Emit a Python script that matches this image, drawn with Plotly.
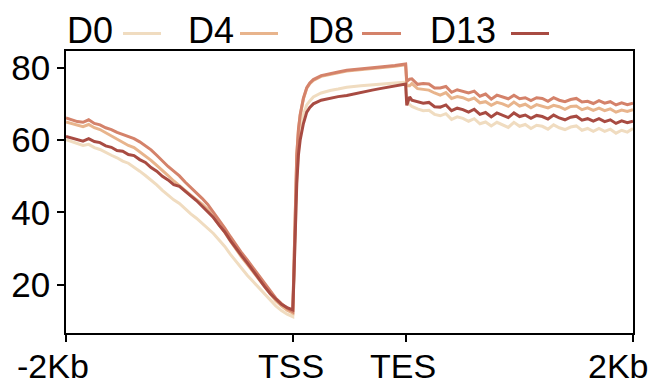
import plotly.graph_objects as go

# x positions: 0..2000 upstream, 2000..3000 scaled gene body, 3000..5000 downstream
tick_vals = [0, 2000, 3000, 5000]
tick_text = ["-2Kb", "TSS", "TES", "2Kb"]
y_ticks = [20, 40, 60, 80]

series_names = ["D0", "D4", "D8", "D13"]
series_colors = ["#f0dcc0", "#e8b48c", "#d4826a", "#a84b42"]

x_up = [0, 50, 100, 150, 200, 250, 300, 350, 400, 450, 500, 550, 600, 650, 700,
        750, 800, 850, 900, 950, 1000, 1050, 1100, 1150, 1200, 1250, 1300, 1350,
        1400, 1450, 1500, 1550, 1600, 1650, 1700, 1750, 1800, 1850, 1900, 1950, 2000]
x_body = [2010, 2020, 2035, 2050, 2065, 2093, 2123, 2150, 2181, 2250, 2329,
          2400, 2476, 2600, 2700, 2769, 2900, 2995]
x_down = [3005, 3030, 3050, 3100, 3150, 3200, 3250, 3300, 3350, 3400, 3450,
          3500, 3550, 3600, 3650, 3700, 3750, 3800, 3850, 3900, 3950,
          4000, 4050, 4100, 4150, 4200, 4250, 4300, 4350, 4400, 4450,
          4500, 4550, 4600, 4650, 4700, 4750, 4800, 4850, 4900, 4950, 5000]
x_all = x_up + x_body + x_down

d0 = ([60.1, 59.5, 59.1, 58.5, 58.8, 57.9, 57.4, 56.5, 55.8, 55.1, 54.2, 53.6, 52.6,
       51.4, 50.2, 49.0, 47.6, 46.1, 44.8, 43.5, 42.5, 41.0, 39.6, 38.4, 37.0, 35.8,
       34.2, 32.4, 30.6, 28.4, 26.4, 24.4, 22.6, 20.9, 19.2, 17.3, 15.6, 14.2, 12.9,
       11.9, 11.2]
      + [21.0, 35.0, 49.0, 57.0, 62.0, 67.0, 69.7, 70.8, 71.9, 73.0, 73.7,
         74.1, 74.6, 75.0, 75.3, 75.5, 75.8, 76.0]
      + [70.5, 69.9, 69.3, 68.6, 68.1, 68.2, 67.1, 66.7, 67.3, 65.7, 66.4,
         66.0, 65.2, 65.9, 64.5, 65.0, 63.9, 64.9, 64.3, 63.5, 64.9,
         63.8, 64.3, 63.2, 64.1, 63.8, 63.0, 64.2, 63.4, 62.9, 63.6,
         63.9, 62.7, 63.2, 62.4, 63.2, 62.4, 63.0, 61.9, 62.7, 62.2, 63.2])

d4 = ([65.0, 64.6, 64.1, 63.7, 64.3, 63.4, 62.9, 62.0, 61.1, 60.2, 59.4, 58.5, 57.9,
       56.8, 55.6, 54.4, 53.0, 51.7, 50.2, 48.7, 47.3, 46.1, 44.8, 43.6, 42.3, 40.8,
       38.8, 36.6, 34.5, 32.1, 29.8, 27.6, 25.6, 23.6, 21.5, 19.4, 17.3, 15.6, 14.2,
       13.0, 12.2]
      + [24.6, 41.7, 55.8, 62.8, 66.8, 71.3, 74.3, 75.6, 76.5, 77.6, 78.2,
         78.6, 79.1, 79.4, 79.8, 80.0, 80.4, 80.8]
      + [75.0, 75.0, 75.6, 74.2, 74.0, 73.8, 73.0, 72.4, 73.1, 71.5, 72.0,
         71.7, 71.0, 71.6, 70.3, 70.6, 69.6, 70.4, 70.0, 69.3, 70.5,
         69.4, 69.9, 68.9, 69.8, 69.3, 68.9, 69.6, 69.2, 68.5, 69.3,
         69.4, 68.4, 68.9, 68.2, 68.8, 68.1, 68.6, 67.7, 68.3, 67.9, 68.4])

d8 = ([66.1, 65.6, 65.1, 64.9, 65.6, 64.6, 64.2, 63.4, 62.9, 62.1, 61.6, 61.0, 60.4,
       59.5, 58.3, 57.3, 55.8, 54.1, 52.7, 51.4, 50.1, 48.4, 46.9, 45.5, 43.9, 42.2,
       40.1, 37.9, 35.7, 33.3, 31.0, 28.8, 26.8, 24.7, 22.5, 20.2, 18.1, 16.3, 14.8,
       13.5, 12.6]
      + [25.0, 42.0, 56.0, 63.0, 67.0, 71.5, 74.5, 75.8, 76.7, 77.8, 78.4,
         78.8, 79.3, 79.6, 80.0, 80.2, 80.6, 81.0]
      + [76.2, 76.8, 76.9, 75.4, 75.6, 75.5, 74.4, 74.4, 74.8, 73.2, 73.9,
         73.5, 73.0, 73.5, 72.1, 72.7, 71.3, 72.4, 71.9, 71.4, 72.4,
         71.4, 71.7, 70.9, 71.7, 71.5, 70.7, 71.7, 71.0, 70.6, 71.2,
         71.5, 70.5, 70.7, 70.1, 70.9, 70.2, 70.6, 69.7, 70.3, 69.8, 70.2])

d13 = ([61.0, 60.5, 60.2, 59.7, 60.4, 59.6, 59.3, 58.4, 58.0, 57.1, 56.9, 56.0, 55.7,
        54.6, 53.8, 52.4, 51.4, 50.0, 49.0, 47.7, 47.2, 45.8, 44.6, 43.3, 41.8, 40.3,
        38.6, 36.5, 34.6, 32.2, 30.0, 28.0, 26.0, 23.8, 21.8, 19.6, 17.6, 16.0, 14.6,
        13.7, 13.1]
       + [22.0, 35.0, 48.0, 56.0, 60.0, 64.5, 67.7, 69.0, 70.0, 71.0, 71.6,
          72.0, 72.3, 73.2, 73.8, 74.2, 74.9, 75.5]
       + [69.6, 71.9, 71.0, 70.6, 70.2, 70.4, 69.2, 69.1, 69.7, 68.1, 68.8,
          68.4, 67.7, 68.5, 67.1, 67.6, 66.4, 67.5, 66.9, 66.2, 67.5,
          66.5, 66.9, 66.0, 66.8, 66.5, 65.8, 66.9, 66.1, 65.6, 66.3,
          66.6, 65.5, 65.9, 65.2, 65.9, 65.1, 65.6, 64.6, 65.3, 64.8, 65.2])

series_values = [d0, d4, d8, d13]

FONT = "Liberation Sans, Arial, sans-serif"

fig = go.Figure()
for name, color, vals in zip(series_names, series_colors, series_values):
    fig.add_trace(go.Scatter(x=x_all, y=vals, mode="lines", name=name,
                             line=dict(color=color, width=3), showlegend=False))

# the page shows the figure offset by the body margin, so lay out in figure pixels
OFF = 8
FW, FH = 656, 392
PL, PR, PT, PB = 66 - OFF, 633 - OFF, 51 - OFF, 333 - OFF
W = PR - PL
H = PB - PT
def px_to_paper_x(px):
    return (px - OFF - PL) / W
def py_to_paper_y(py):
    return (PB - (py - OFF)) / H

# legend drawn as text followed by a line sample (text left of symbol)
legend_text_x = [65, 186, 306, 428]
legend_line_x = [(123, 161), (240, 278), (362, 401), (511, 549)]
for name, color, tx, (l0, l1) in zip(series_names, series_colors, legend_text_x, legend_line_x):
    fig.add_annotation(x=px_to_paper_x(tx), y=py_to_paper_y(31), xref="paper", yref="paper",
                       text=name, showarrow=False, xanchor="left", yanchor="middle",
                       font=dict(family=FONT, size=36, color="black"))
    fig.add_shape(type="line", xref="paper", yref="paper",
                  x0=px_to_paper_x(l0), x1=px_to_paper_x(l1),
                  y0=py_to_paper_y(33.5), y1=py_to_paper_y(33.5),
                  line=dict(color=color, width=3))

# x tick labels, placed at the tick values with the reference's small offsets
label_shift = [-13, -2, -3, -15]
for tv, tt, sh in zip(tick_vals, tick_text, label_shift):
    fig.add_annotation(x=tv, xref="x", y=0, yref="paper", text=tt, showarrow=False,
                       xanchor="center", yanchor="middle", xshift=sh, yshift=-33,
                       font=dict(family=FONT, size=34, color="black"))

fig.update_layout(
    width=FW, height=FH,
    margin=dict(l=PL, r=FW - PR, t=PT, b=FH - PB, autoexpand=False),
    plot_bgcolor="white", paper_bgcolor="white",
    font=dict(family=FONT, size=35, color="black"),
    showlegend=False,
)
fig.update_xaxes(range=[0, 5000], tickvals=tick_vals, ticktext=tick_text,
                 showticklabels=False,
                 showgrid=False, zeroline=False, showline=True, linecolor="black",
                 linewidth=1.5, mirror=True, ticks="outside", ticklen=7, tickwidth=1.5,
                 tickcolor="black", automargin=False)
fig.update_yaxes(range=[6.7, 84.6], tickvals=y_ticks,
                 showgrid=False, zeroline=False, showline=True, linecolor="black",
                 linewidth=1.5, mirror=True, ticks="outside", ticklen=7, tickwidth=1.5,
                 tickcolor="black", automargin=False, ticklabeloverflow="allow",
                 tickfont=dict(size=35))

fig.write_html("out.html")
